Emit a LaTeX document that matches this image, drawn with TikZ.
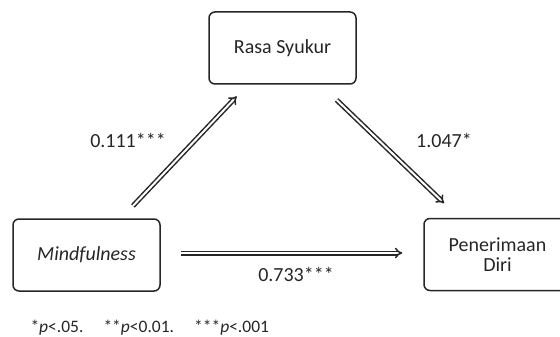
\documentclass[tikz,border=0pt]{standalone}
\usepackage{fontspec}
\setmainfont{Carlito}
\usepackage{tikz}
\usetikzlibrary{arrows.meta}

\definecolor{txtgray}{HTML}{262626}

\begin{document}
\begin{tikzpicture}[x=1pt, y=-1pt,
    every node/.style={font=\fontsize{20}{23}\selectfont, text=txtgray},
    varbox/.style={draw=black!85, line width=1.5pt, rounded corners=6pt,
        minimum width=147pt, minimum height=72pt, align=center},
    dblarrow/.style={draw=black!85, line width=1.5pt, double=white,
        double distance=2pt, -{Implies}}]

\useasboundingbox (0,0) rectangle (560,337);

% --- VARIABLES ---
\node[varbox] (rasa) at (282.5,48) {Rasa Syukur};
\node[varbox] (mind) at (86.5,255) {\itshape Mindfulness};
\node[varbox] (pen) at (497.5,254.5) {Penerimaan\\[-3pt]Diri};

% --- PATHS ---
\draw[dblarrow, shorten <=17pt, shorten >=16pt] (mind) -- (rasa);
\draw[dblarrow, shorten <=22pt, shorten >=21pt] (rasa) -- (pen);
\draw[dblarrow, shorten <=20pt, shorten >=21pt] (mind.east |- 0,253) -- (pen.west |- 0,253);

% coefficients
\node (a) at (128,140) {0.111***};
\node (b) at (444,140) {1.047*};
\node (c) at (296,274) {0.733***};

% significance note
\node[font=\fontsize{17.5}{20}\selectfont, anchor=west] (note) at (27,328)
    {*\textit{p}<.05.\hspace{20pt}**\textit{p}<0.01.\hspace{20pt}***\textit{p}<.001};

\end{tikzpicture}
\end{document}
